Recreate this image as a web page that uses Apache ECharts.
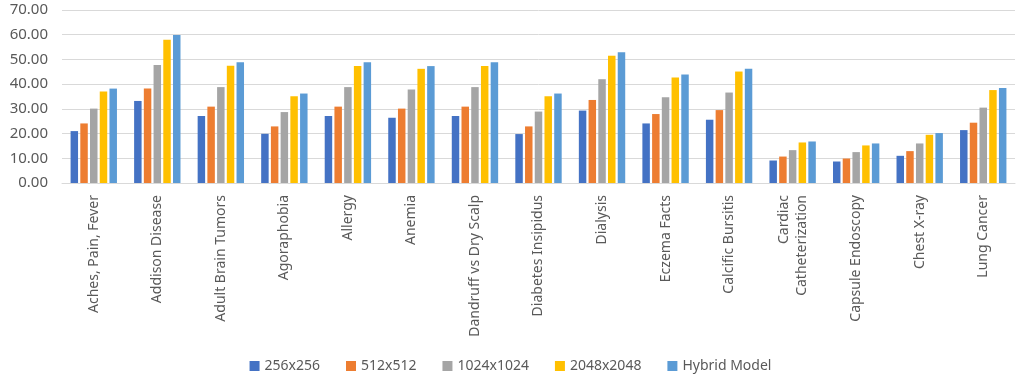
<!DOCTYPE html>
<html>
<head>
<meta charset="utf-8">
<title>Resolution comparison</title>
<script src="https://cdn.jsdelivr.net/npm/echarts@6/dist/echarts.min.js"></script>
<style>
  html, body { margin: 0; padding: 0; background: #fff; }
  #chart { width: 1021px; height: 382px; }
</style>
</head>
<body>
<div id="chart"></div>
<script>
var categories = [
    'Aches, Pain, Fever', 'Addison Disease', 'Adult Brain Tumors', 'Agoraphobia',
    'Allergy', 'Anemia', 'Dandruff vs Dry Scalp', 'Diabetes Insipidus', 'Dialysis',
    'Eczema Facts', 'Calcific Bursitis', 'Cardiac\nCatheterization',
    'Capsule Endoscopy', 'Chest X-ray', 'Lung Cancer'
];
var seriesNames = ['256x256', '512x512', '1024x1024', '2048x2048', 'Hybrid Model'];
var res256  = [21.0, 33.2, 27.1, 19.9, 27.1, 26.4, 27.1, 19.8, 29.3, 24.1, 25.6,  9.1,  8.7, 11.0, 21.4];
var res512  = [24.1, 38.2, 30.9, 22.9, 30.9, 30.1, 30.9, 22.9, 33.6, 27.9, 29.5, 10.7,  9.9, 12.9, 24.4];
var res1024 = [30.1, 47.7, 38.8, 28.7, 38.8, 37.8, 38.8, 28.9, 42.0, 34.7, 36.6, 13.3, 12.5, 16.0, 30.5];
var res2048 = [37.0, 58.0, 47.4, 35.1, 47.3, 46.2, 47.3, 35.1, 51.5, 42.7, 45.1, 16.4, 15.2, 19.5, 37.6];
var hybrid  = [38.2, 59.9, 48.9, 36.2, 48.9, 47.3, 48.9, 36.2, 52.9, 43.9, 46.2, 16.8, 16.0, 20.2, 38.4];
var yTicks = { min: 0, max: 70, interval: 10 };

var colors = ['#4472C4', '#ED7D31', '#A5A5A5', '#FFC000', '#5B9BD5'];
var values = [res256, res512, res1024, res2048, hybrid];
var font = '"Noto Sans", sans-serif';

var series = [];
for (var i = 0; i < seriesNames.length; i++) {
    series.push({
        name: seriesNames[i],
        type: 'bar',
        data: values[i],
        barGap: '30%',
        barCategoryGap: '27%',
        itemStyle: { color: colors[i] }
    });
}

var chart = echarts.init(document.getElementById('chart'));
chart.setOption({
    animation: false,
    color: colors,
    grid: { left: 62, right: 6, top: 10, bottom: 199 },
    legend: {
        bottom: 4,
        left: 'center',
        itemWidth: 10,
        itemHeight: 10,
        itemGap: 26,
        icon: 'rect',
        textStyle: { fontFamily: font, fontSize: 14, color: '#595959' }
    },
    xAxis: {
        type: 'category',
        data: categories,
        axisTick: { show: false },
        axisLine: { lineStyle: { color: '#d9d9d9' } },
        axisLabel: {
            rotate: 90,
            interval: 0,
            margin: 12,
            fontFamily: font,
            fontSize: 14,
            lineHeight: 18,
            color: '#595959'
        }
    },
    yAxis: {
        type: 'value',
        min: yTicks.min,
        max: yTicks.max,
        interval: yTicks.interval,
        axisLine: { show: false },
        axisTick: { show: false },
        splitLine: { lineStyle: { color: '#d9d9d9', width: 1 } },
        axisLabel: {
            margin: 14,
            fontFamily: font,
            fontSize: 15,
            color: '#595959',
            formatter: function (v) { return v.toFixed(2); }
        }
    },
    series: series
});
</script>
</body>
</html>
